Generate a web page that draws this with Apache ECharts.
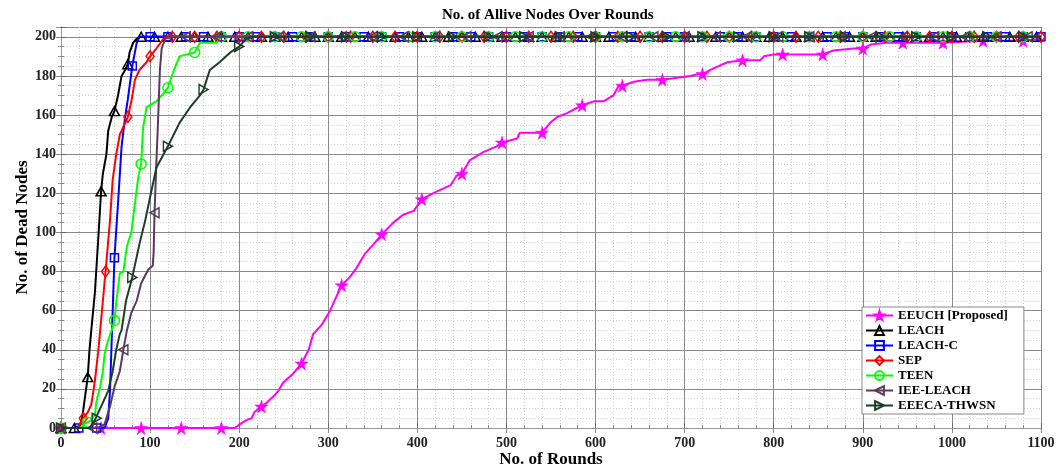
<!DOCTYPE html>
<html>
<head>
<meta charset="utf-8">
<script src="https://cdn.jsdelivr.net/npm/echarts@6/dist/echarts.min.js"></script>
<style>
  html, body { margin: 0; padding: 0; background: #fff; }
  #main { width: 1064px; height: 467px; }
</style>
</head>
<body>
<div id="main"></div>
<script>
// rounds (x) and dead nodes (y)
var seriesNames = ['EEUCH [Proposed]', 'LEACH', 'LEACH-C', 'SEP', 'TEEN', 'IEE-LEACH', 'EEECA-THWSN'];

var eeuchRounds = [0, 45, 90, 135, 180, 195, 201, 208, 214, 217, 225, 231, 238, 244, 249, 261, 270, 278, 283, 293, 302, 311, 315, 324, 332, 341, 351, 360, 373, 384, 396, 405, 422, 437, 444, 450, 459, 474, 489, 495, 512, 515, 532, 540, 549, 557, 568, 585, 598, 609, 620, 626, 630, 643, 658, 675, 706, 716, 720, 733, 748, 765, 785, 789, 800, 810, 855, 867, 890, 900, 909, 927, 945, 963, 990, 1035, 1080, 1100];
var eeuchDead   = [0, 0, 0, 0, 0, 0, 2, 4, 5, 8, 11, 13, 16, 19, 23, 28, 33, 40, 48, 53, 60, 69, 73, 77, 82, 89, 94, 99, 105, 109, 111, 117, 121, 124, 129, 130, 137, 141, 144, 146, 148, 151, 151, 151, 156, 159, 161, 165, 167, 167, 170, 175, 175, 177, 178, 178, 180, 181, 181, 184, 187, 188, 188, 190, 191, 191, 191, 193, 194, 194, 196, 197, 197, 197, 197, 198, 198, 199];

var leachRounds = [0, 15, 21, 24, 27, 30, 32, 34, 38, 42, 45, 47, 51, 53, 57, 60, 64, 68, 72, 75, 77, 81, 85, 89];
var leachDead   = [0, 0, 1, 6, 16, 26, 40, 50, 69, 98, 121, 130, 140, 152, 159, 162, 170, 180, 183, 186, 192, 197, 199, 200];

var leachCRounds = [0, 20, 40, 49, 53, 55, 57, 60, 64, 68, 72, 75, 80, 85, 88];
var leachCDead   = [0, 0, 0, 0, 5, 19, 46, 87, 115, 144, 159, 168, 185, 197, 200];

var sepRounds = [0, 19, 25, 30, 34, 38, 42, 44, 50, 55, 58, 62, 66, 75, 79, 83, 88, 96, 100, 107, 115, 118];
var sepDead   = [0, 0, 5, 8, 12, 24, 40, 50, 80, 106, 127, 140, 150, 159, 167, 178, 183, 187, 190, 194, 199, 200];

var teenRounds = [0, 22, 26, 30, 34, 38, 40, 44, 47, 49, 53, 57, 60, 62, 66, 70, 74, 79, 83, 87, 90, 92, 96, 107, 115, 120, 126, 133, 141, 150, 156, 175, 178];
var teenDead   = [0, 0, 2, 3, 4, 7, 14, 21, 29, 38, 45, 50, 55, 64, 79, 80, 93, 100, 115, 129, 135, 153, 164, 167, 171, 174, 182, 190, 191, 192, 197, 197, 200];

var ieeRounds = [0, 35, 42, 49, 55, 60, 66, 70, 74, 79, 85, 90, 98, 103, 104, 105, 107, 109, 111, 113, 117, 124];
var ieeDead   = [0, 0, 0, 2, 11, 21, 29, 40, 50, 59, 65, 74, 81, 83, 90, 110, 135, 158, 183, 194, 199, 200];

var eeecaRounds = [0, 32, 38, 40, 47, 53, 58, 62, 66, 68, 73, 80, 88, 94, 100, 107, 120, 133, 145, 156, 160, 167, 178, 190, 200, 208, 216];
var eeecaDead   = [0, 0, 4, 5, 13, 19, 29, 40, 48, 50, 65, 77, 94, 105, 118, 133, 144, 156, 164, 170, 173, 183, 187, 192, 195, 199, 200];

// every protocol ends with all 200 nodes dead
var allDead = 200;
var lastRound = 1100;
// marker every N rounds (as in the figure)
var markEvery = [45, 15, 20, 25, 30, 35, 40];

var colors = ['#ff00ff', '#000000', '#0000ff', '#ff0000', '#00ff00', '#5b3b5b', '#1c3d2a'];
var symbols = [
  'path://M50,0 L61,35 L98,35 L68,57 L79,91 L50,70 L21,91 L32,57 L2,35 L39,35 Z',
  'triangle', 'rect', 'diamond', 'circle',
  'path://M0,5 L10,0 L10,10 Z',
  'path://M10,5 L0,0 L0,10 Z'
];
var symbolSizes = [13, [10, 9], 8, [8, 11], 10, [9, 10], [9, 10]];

var allRounds = [eeuchRounds, leachRounds, leachCRounds, sepRounds, teenRounds, ieeRounds, eeecaRounds];
var allDeadVals = [eeuchDead, leachDead, leachCDead, sepDead, teenDead, ieeDead, eeecaDead];

function buildData(rounds, dead, step) {
  var out = [];
  for (var i = 0; i < rounds.length; i++) {
    out.push({ value: [rounds[i], dead[i]], symbol: rounds[i] % step === 0 ? undefined : 'none' });
  }
  var last = rounds[rounds.length - 1];
  if (dead[dead.length - 1] === allDead) {
    // flat part at 200 up to the last round
    for (var r = Math.ceil((last + 1) / step) * step; r <= lastRound; r += step) {
      out.push({ value: [r, allDead] });
    }
    if (out[out.length - 1].value[0] !== lastRound) {
      out.push({ value: [lastRound, allDead], symbol: 'none' });
    }
  }
  return out;
}

var font = 'Liberation Serif';
var series = seriesNames.map(function (name, i) {
  var hollow = i !== 0;
  return {
    name: name,
    type: 'line',
    data: buildData(allRounds[i], allDeadVals[i], markEvery[i]),
    symbol: symbols[i],
    symbolSize: symbolSizes[i],
    showAllSymbol: true,
    lineStyle: { color: colors[i], width: 2 },
    itemStyle: {
      color: hollow ? 'rgba(255,255,255,0)' : colors[i],
      borderColor: colors[i],
      borderWidth: hollow ? 1.5 : 0.5
    },
    emphasis: { disabled: true },
    z: 2 + i,
    animation: false
  };
});

var plain = function (v) { return String(v); };

var myChart = echarts.init(document.getElementById('main'));
myChart.setOption({
  backgroundColor: '#fff',
  animation: false,
  title: {
    text: 'No. of Allive Nodes Over Rounds',
    left: 437, top: 3,
    textStyle: { fontFamily: font, fontWeight: 'bold', fontSize: 15, color: '#000' }
  },
  legend: {
    orient: 'vertical',
    left: 862, top: 307,
    padding: [2, 16, 2, 3],
    itemWidth: 27, itemHeight: 11, itemGap: 2,
    backgroundColor: '#fff',
    borderColor: '#888', borderWidth: 1,
    borderRadius: 0,
    textStyle: { fontFamily: font, fontWeight: 'bold', fontSize: 13, color: '#000', lineHeight: 13 },
    data: seriesNames
  },
  grid: { left: 61, right: 23, top: 27, bottom: 39, containLabel: false, outerBoundsMode: 'none' },
  xAxis: [{
    type: 'value', min: 0, max: lastRound, interval: 100,
    name: 'No. of Rounds', nameLocation: 'middle', nameGap: 23, nameMoveOverlap: false,
    nameTextStyle: { fontFamily: font, fontWeight: 'bold', fontSize: 17, color: '#000' },
    axisLine: { lineStyle: { color: '#888', width: 1 } },
    axisTick: { inside: true, length: 5, lineStyle: { color: '#666' } },
    minorTick: { show: true, splitNumber: 5, length: 3, lineStyle: { color: '#888' } },
    axisLabel: { fontFamily: font, fontWeight: 'bold', fontSize: 14, color: '#222', margin: 8, formatter: plain },
    splitLine: { lineStyle: { color: '#8a8a8a', width: 1 } },
    minorSplitLine: { show: true, lineStyle: { color: '#d0d0d0', type: [1, 2], width: 1 } }
  }, {
    type: 'value', position: 'top', min: 0, max: lastRound, interval: 100,
    axisLine: { show: true, lineStyle: { color: '#999' } },
    axisTick: { inside: true, length: 5, lineStyle: { color: '#888' } },
    axisLabel: { show: false }, splitLine: { show: false }
  }],
  yAxis: [{
    type: 'value', min: 0, max: 205, interval: 20,
    name: 'No. of Dead Nodes', nameLocation: 'middle', nameGap: 30, nameMoveOverlap: false,
    nameTextStyle: { fontFamily: font, fontWeight: 'bold', fontSize: 17, color: '#000' },
    axisLine: { show: true, lineStyle: { color: '#888', width: 1 } },
    axisTick: { show: true, inside: true, length: 5, lineStyle: { color: '#666' } },
    minorTick: { show: true, splitNumber: 4, length: 3, lineStyle: { color: '#888' } },
    axisLabel: { fontFamily: font, fontWeight: 'bold', fontSize: 14, color: '#222', margin: 5, showMaxLabel: false, formatter: plain },
    splitLine: { lineStyle: { color: '#8a8a8a', width: 1 } },
    minorSplitLine: { show: true, lineStyle: { color: '#d0d0d0', type: [1, 2], width: 1 } }
  }, {
    type: 'value', position: 'right', min: 0, max: 205, interval: 20,
    axisLine: { show: true, lineStyle: { color: '#999' } },
    axisTick: { show: true, inside: true, length: 5, lineStyle: { color: '#888' } },
    minorTick: { show: true, splitNumber: 4, length: 3, lineStyle: { color: '#999' } },
    axisLabel: { show: false }, splitLine: { show: false }
  }],
  series: series
});
</script>
</body>
</html>
